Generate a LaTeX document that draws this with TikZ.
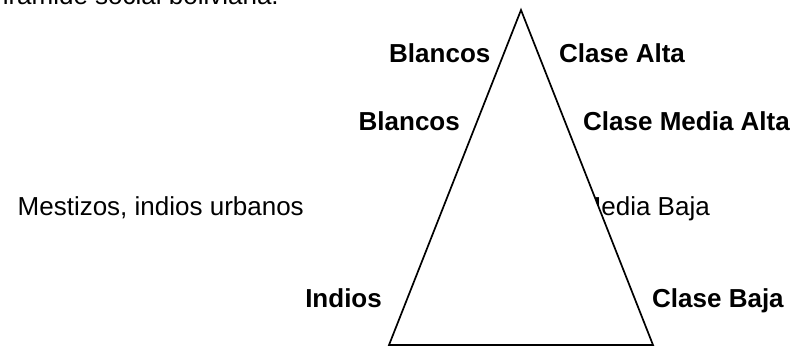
\documentclass[tikz,border=0pt]{standalone}
\usepackage{fontspec}
\setmainfont{Liberation Sans}
\usepackage{xcolor}
\usetikzlibrary{positioning}
\definecolor{inkblack}{RGB}{0,0,0}
\tikzset{
  rank/.style={font=\fontsize{26}{30}\selectfont\bfseries, color=inkblack, inner sep=0pt},
  plain/.style={font=\fontsize{26}{30}\selectfont, color=inkblack, inner sep=0pt}
}

\begin{document}
\begin{tikzpicture}[x=1pt,y=-1pt]
\useasboundingbox (0,0) rectangle (795,347);
\begin{scope}
\clip (0,0) rectangle (795,347);
\node[plain, anchor=base east] (title) at (279,5) {Pirámide social boliviana.};
\end{scope}
\node[rank, anchor=base west] (blancosA) at (389,63) {Blancos};
\node[rank, anchor=base west] (altaA) at (559,63) {Clase Alta};
\node[rank, anchor=base east] (blancosB) at (460,131) {Blancos};
\node[rank, anchor=base west] (mediaA) at (583,131) {Clase Media Alta};
\node[plain, anchor=base east] (mestizos) at (304,216) {Mestizos, indios urbanos};
\node[plain, anchor=base east] (mediaB) at (710,216) {Clase Media Baja};
\node[rank, anchor=base east] (indios) at (382,308) {Indios};
\node[rank, anchor=base west] (baja) at (652,308) {Clase Baja};
% the pyramid covers part of the middle label
\coordinate (apex) at (521,10);
\coordinate (baseL) at (389,345);
\coordinate (baseR) at (653,345);
\filldraw[fill=white, draw=inkblack, line width=1.7pt] (apex) -- (baseR) -- (baseL) -- cycle;
\end{tikzpicture}
\end{document}
